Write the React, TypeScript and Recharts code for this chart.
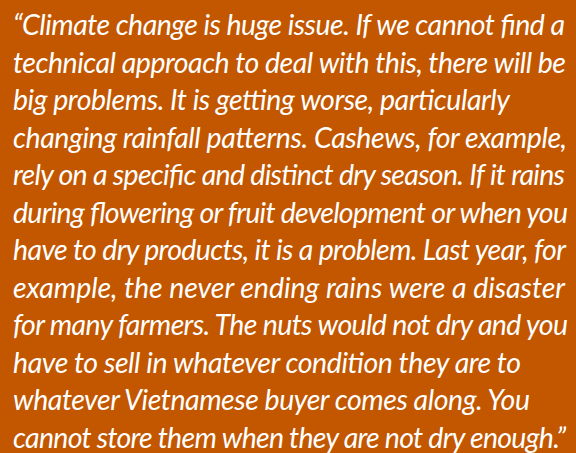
import React from "react";
import { Surface } from "recharts";

const quoteLines: string[] = [
  "\u201CClimate change is huge issue. If we cannot find a",
  "technical approach to deal with this, there will be",
  "big problems. It is getting worse, particularly",
  "changing rainfall patterns. Cashews, for example,",
  "rely on a specific and distinct dry season. If it rains",
  "during flowering or fruit development or when you",
  "have to dry products, it is a problem. Last year, for",
  "example, the never ending rains were a disaster",
  "for many farmers. The nuts would not dry and you",
  "have to sell in whatever condition they are to",
  "whatever Vietnamese buyer comes along. You",
  "cannot store them when they are not dry enough.\u201D",
];

// right edge of each line in the picture
const lineEnds: number[] = [565, 566, 510, 567, 565, 568, 566, 565, 568, 521, 530, 566];

const W = 576;
const H = 453;
const LEFT = 13;
const FIRST_BASELINE = 35;
const STEP = 37.5;

export default function App() {
  return (
    <div style={{ position: "absolute", left: 0, top: 0, width: W, height: H }}>
      <Surface width={W} height={H}>
        <rect x={0} y={0} width={W} height={H} fill="#C25700" />
        {quoteLines.map((line, i) => (
          <text
            key={i}
            x={LEFT}
            y={FIRST_BASELINE + i * STEP}
            fill="#FFFFFF"
            fontFamily="Lato, 'Open Sans', sans-serif"
            fontStyle="italic"
            fontSize={28.5}
            textLength={lineEnds[i] - LEFT}
            lengthAdjust="spacing"
          >
            {line}
          </text>
        ))}
      </Surface>
    </div>
  );
}
